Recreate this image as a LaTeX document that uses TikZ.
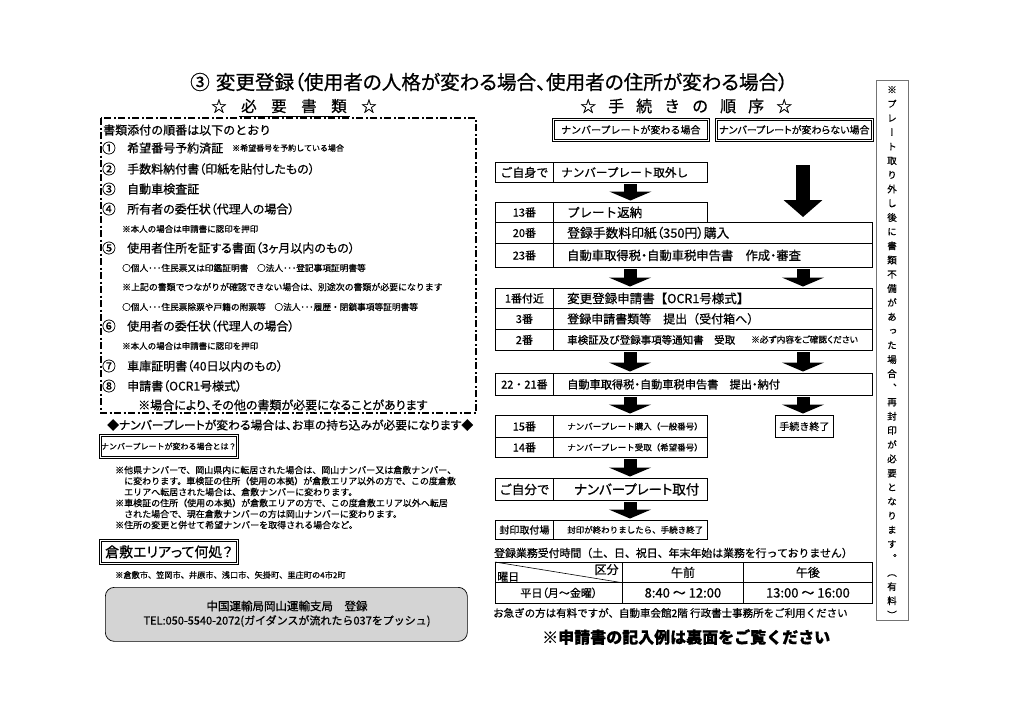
\documentclass[tikz,border=0pt]{standalone}
\usepackage{fontspec}
\setmainfont{Noto Sans CJK JP}[RawFeature={embolden=0.6}]
\newfontfamily\pf{Noto Sans CJK JP}[RawFeature={+palt;embolden=0.6}]
\newfontfamily\vf{Noto Sans CJK JP}[RawFeature={+vert;embolden=0.6}]
\usetikzlibrary{arrows.meta,calc}
\newcommand{\fs}[1]{\fontsize{#1}{#1}\selectfont}
\begin{document}
\begin{tikzpicture}[x=1pt,y=-1pt,
  box/.style={draw, line width=0.8pt, inner sep=0pt, anchor=north west},
  dbox/.style={draw, double, double distance=1.2pt, line width=0.6pt, inner sep=0pt, anchor=north west},
  txt/.style={inner sep=0pt, anchor=west},
  ctxt/.style={inner sep=0pt},
  blk/.style={line width=13pt, -{Triangle[width=42pt,length=9pt]}, shorten <=1.5pt, shorten >=1.5pt},
  bigblk/.style={line width=14pt, -{Triangle[width=38pt,length=17pt]}},
]
\useasboundingbox (0,0) rectangle (1024,724);
\fill[white] (0,0) rectangle (1024,724);

% ---------- titles ----------
\node[txt] (title) at (190,82) {\pf\fs{19.6}③\hspace{6pt}変更登録（使用者の人格が変わる場合、使用者の住所が変わる場合）};
\node[txt] (hl) at (211,106) {\fs{15.5}☆\hspace{14.5pt}必\hspace{14.5pt}要\hspace{14.5pt}書\hspace{14.5pt}類\hspace{14.5pt}☆};
\draw[line width=0.8pt] (239,116.5) -- (350,116.5);
\node[txt] (hr) at (580,106) {\fs{16}☆\hspace{12pt}手\hspace{12pt}続\hspace{12pt}き\hspace{12pt}の\hspace{12pt}順\hspace{12pt}序\hspace{12pt}☆};

% ---------- left: document list ----------
\draw[line width=1.3pt, dash pattern=on 7pt off 2.5pt on 2pt off 2.5pt] (101,118) rectangle (476,413);
\node[txt] (l0) at (103,130) {\fs{12}書類添付の順番は以下のとおり};
\node[txt] (n1) at (102,148) {\fs{13.5}①};
\node[txt] (t1) at (127,148) {\pf\fs{12}希望番号予約済証};
\node[txt] (t1s) at (232,148) {\fs{8}※希望番号を予約している場合};
\node[txt] (n2) at (102,169) {\fs{13.5}②};
\node[txt] (t2) at (127,169) {\pf\fs{12}手数料納付書（印紙を貼付したもの）};
\node[txt] (n3) at (102,189) {\fs{13.5}③};
\node[txt] (t3) at (127,189) {\pf\fs{12}自動車検査証};
\node[txt] (n4) at (102,209) {\fs{13.5}④};
\node[txt] (t4) at (127,209) {\pf\fs{12}所有者の委任状（代理人の場合）};
\node[txt] (t4s) at (122,229) {\fs{8.5}※本人の場合は申請書に認印を押印};
\node[txt] (n5) at (102,248) {\fs{13.5}⑤};
\node[txt] (t5) at (127,248) {\pf\fs{12}使用者住所を証する書面（3ヶ月以内のもの）};
\node[txt] (t5a) at (122,268) {\fs{8.7}○個人･･･住民票又は印鑑証明書　○法人･･･登記事項証明書等};
\node[txt] (t5b) at (122,287) {\fs{8.9}※上記の書類でつながりが確認できない場合は、別途次の書類が必要になります};
\node[txt] (t5c) at (122,307) {\fs{8.7}○個人･･･住民票除票や戸籍の附票等　○法人･･･履歴・閉鎖事項等証明書等};
\node[txt] (n6) at (102,326) {\fs{13.5}⑥};
\node[txt] (t6) at (127,326) {\pf\fs{12}使用者の委任状（代理人の場合）};
\node[txt] (t6s) at (122,346) {\fs{8.5}※本人の場合は申請書に認印を押印};
\node[txt] (n7) at (102,366) {\fs{13.5}⑦};
\node[txt] (t7) at (127,366) {\pf\fs{12}車庫証明書（40日以内のもの）};
\node[txt] (n8) at (102,386) {\fs{13.5}⑧};
\node[txt] (t8) at (127,386) {\pf\fs{12}申請書（OCR1号様式）};
\node[txt] (t9) at (138,405) {\pf\fs{12}※場合により、その他の書類が必要になることがあります};

\node[txt] (dia) at (107,425) {\pf\fs{11.8}◆ナンバープレートが変わる場合は、お車の持ち込みが必要になります◆};

\node[dbox, minimum width=137pt, minimum height=22pt] (q1) at (100,435) {\fs{8}ナンバープレートが変わる場合とは？};
\node[txt] (nt1) at (115,470) {\fs{9}※他県ナンバーで、岡山県内に転居された場合は、岡山ナンバー又は倉敷ナンバー、};
\node[txt] (nt2) at (124,481) {\fs{9}に変わります。車検証の住所（使用の本拠）が倉敷エリア以外の方で、この度倉敷};
\node[txt] (nt3) at (124,492) {\fs{9}エリアへ転居された場合は、倉敷ナンバーに変わります。};
\node[txt] (nt4) at (115,503) {\fs{9}※車検証の住所（使用の本拠）が倉敷エリアの方で、この度倉敷エリア以外へ転居};
\node[txt] (nt5) at (124,514) {\fs{9}された場合で、現在倉敷ナンバーの方は岡山ナンバーに変わります。};
\node[txt] (nt6) at (115,525) {\fs{9}※住所の変更と併せて希望ナンバーを取得される場合など。};

\node[dbox, minimum width=137pt, minimum height=23pt] (q2) at (100,540) {\pf\fs{14}倉敷エリアって何処？};
\node[txt] (ar) at (115,575) {\fs{8.2}※倉敷市、笠岡市、井原市、浅口市、矢掛町、里庄町の4市2町};

\node[draw, line width=0.7pt, fill=black!17, rounded corners=9pt, minimum width=362pt, minimum height=54pt, anchor=north west, inner sep=0pt] (info) at (105,587) {};
\node[ctxt] (info1) at (287,606) {\fs{11.5}中国運輸局岡山運輸支局　登録};
\node[ctxt] (info2) at (287,621) {\fs{11}TEL:050-5540-2072(ガイダンスが流れたら037をプッシュ)};

% ---------- right: procedure ----------
\node[dbox, minimum width=155pt, minimum height=21pt] (hA) at (553,119) {\fs{10}ナンバープレートが変わる場合};
\node[dbox, minimum width=156pt, minimum height=21pt] (hB) at (716,119) {\pf\fs{10}ナンバープレートが変わらない場合};

\coordinate (L) at (630,0);
\coordinate (R) at (803,0);

\node[box, minimum width=58pt, minimum height=20pt] (s0) at (495,162) {\fs{12}ご自身で};
\node[box, minimum width=154pt, minimum height=20pt] (c0) at (553,162) {};
\node[txt] at ([xshift=8pt]c0.west) {\fs{11.6}ナンバープレート取外し};

\node[box, minimum width=58pt, minimum height=20pt] (s13) at (495,202) {\fs{11}13番};
\node[box, minimum width=154pt, minimum height=20pt] (c13) at (553,202) {};
\node[txt] at ([xshift=14pt]c13.west) {\fs{12.5}プレート返納};
\node[box, minimum width=58pt, minimum height=21pt] (s20) at (495,222) {\fs{11}20番};
\node[box, minimum width=319pt, minimum height=21pt] (c20) at (553,222) {};
\node[txt] at ([xshift=14pt]c20.west) {\pf\fs{12.8}登録手数料印紙（350円）購入};
\node[box, minimum width=58pt, minimum height=24pt] (s23) at (495,243) {\fs{11}23番};
\node[box, minimum width=319pt, minimum height=24pt] (c23) at (553,243) {};
\node[txt] at ([xshift=14pt]c23.west) {\pf\fs{12.3}自動車取得税・自動車税申告書　作成・審査};

\node[box, minimum width=58pt, minimum height=20pt] (s1) at (495,288) {\fs{11}1番付近};
\node[box, minimum width=319pt, minimum height=20pt] (c1) at (553,288) {};
\node[txt] at ([xshift=14pt]c1.west) {\fs{12.5}変更登録申請書【OCR1号様式】};
\node[box, minimum width=58pt, minimum height=21pt] (s3) at (495,308) {\fs{11}3番};
\node[box, minimum width=319pt, minimum height=21pt] (c3) at (553,308) {};
\node[txt] at ([xshift=14pt]c3.west) {\fs{12}登録申請書類等　提出（受付箱へ）};
\node[box, minimum width=58pt, minimum height=21pt] (s2) at (495,329) {\fs{11}2番};
\node[box, minimum width=319pt, minimum height=21pt] (c2) at (553,329) {};
\node[txt] at ([xshift=14pt]c2.west) {\fs{10.5}車検証及び登録事項等通知書　受取};
\node[txt] at (751,339.5) {\pf\fs{8.7}※必ず内容をご確認ください};

\node[box, minimum width=58pt, minimum height=22pt] (s22) at (495,373) {\fs{11}22・21番};
\node[box, minimum width=319pt, minimum height=22pt] (c22) at (553,373) {};
\node[txt] at ([xshift=14pt]c22.west) {\pf\fs{11.2}自動車取得税・自動車税申告書　提出・納付};

\node[box, minimum width=58pt, minimum height=22pt] (s15) at (495,415) {\fs{11}15番};
\node[box, minimum width=154pt, minimum height=22pt] (c15) at (553,415) {};
\node[txt] at ([xshift=14pt]c15.west) {\fs{8.5}ナンバープレート購入（一般番号）};
\node[box, minimum width=58pt, minimum height=20pt] (s14) at (495,437) {\fs{11}14番};
\node[box, minimum width=154pt, minimum height=20pt] (c14) at (553,437) {};
\node[txt] at ([xshift=14pt]c14.west) {\fs{8.5}ナンバープレート受取（希望番号）};
\node[box, minimum width=58pt, minimum height=22pt] (end) at (775,415) {\fs{10}手続き終了};

\node[box, minimum width=58pt, minimum height=22pt] (sj) at (495,478) {\fs{12.5}ご自分で};
\node[box, minimum width=154pt, minimum height=22pt] (cj) at (553,478) {};
\node[txt] at ([xshift=21pt]cj.west) {\pf\fs{13.5}ナンバープレート取付};

\node[box, minimum width=58pt, minimum height=19pt] (sf) at (495,520) {\fs{10}封印取付場};
\node[box, minimum width=154pt, minimum height=19pt] (cf) at (553,520) {};
\node[txt] at ([xshift=14pt]cf.west) {\fs{8.5}封印が終わりましたら、手続き終了};

% arrows
\draw[blk] (c0.south) -- (c13.north);
\coordinate (bigtop) at (803,165);
\draw[bigblk] (bigtop) -- ([yshift=5pt]R |- c20.north);
\draw[blk] (L |- c23.south) -- (L |- c1.north);
\draw[blk] (R |- c23.south) -- (R |- c1.north);
\draw[blk] (L |- c2.south) -- (L |- c22.north);
\draw[blk] (R |- c2.south) -- (R |- c22.north);
\draw[blk] (L |- c22.south) -- (L |- c15.north);
\draw[blk] (R |- c22.south) -- (R |- end.north);
\draw[blk] (L |- c14.south) -- (L |- cj.north);
\draw[blk] (L |- cj.south) -- (L |- cf.north);

% hours
\node[txt] (hours) at (494,553) {\fs{10.9}登録業務受付時間（土、日、祝日、年末年始は業務を行っておりません）};
\node[box, minimum width=127pt, minimum height=20pt] (t11) at (495,562) {};
\node[box, minimum width=121pt, minimum height=20pt] (t12) at (622,562) {\fs{12}午前};
\node[box, minimum width=129pt, minimum height=20pt] (t13) at (743,562) {\fs{12}午後};
\node[box, minimum width=127pt, minimum height=21pt] (t21) at (495,582) {\pf\fs{11}平日（月～金曜）};
\node[box, minimum width=121pt, minimum height=21pt] (t22) at (622,582) {\fs{13}8:40 ～ 12:00};
\node[box, minimum width=129pt, minimum height=21pt] (t23) at (743,582) {\fs{13}13:00 ～ 16:00};
\draw[line width=0.6pt] (t11.north west) -- (t11.south east);
\node[inner sep=0pt, anchor=north east] at ([xshift=-4pt,yshift=-2pt]t11.north east) {\fs{12}区分};
\node[inner sep=0pt, anchor=south west] at ([xshift=2pt,yshift=1pt]t11.south west) {\fs{11}曜日};
\node[txt] (rush) at (493,613) {\fs{10.5}お急ぎの方は有料ですが、自動車会館2階 行政書士事務所をご利用ください};
\node[txt] (back) at (542,637) {\bfseries\fs{16}※申請書の記入例は裏面をご覧ください};

% vertical note
\node[draw=black!55, line width=0.6pt, inner sep=0pt, minimum width=32pt, minimum height=540pt, anchor=north west] (vbox) at (876,80) {};
\node[inner sep=0pt, anchor=north, align=center, font=\vf\fontsize{9.5}{14.2}\selectfont] (vtext) at (892,86)
{※\\プ\\レ\\ー\\ト\\取\\り\\外\\し\\後\\に\\書\\類\\不\\備\\が\\あ\\っ\\た\\場\\合\\、\\再\\封\\印\\が\\必\\要\\と\\な\\り\\ま\\す\\。\\（\\有\\料\\）};
\end{tikzpicture}
\end{document}
